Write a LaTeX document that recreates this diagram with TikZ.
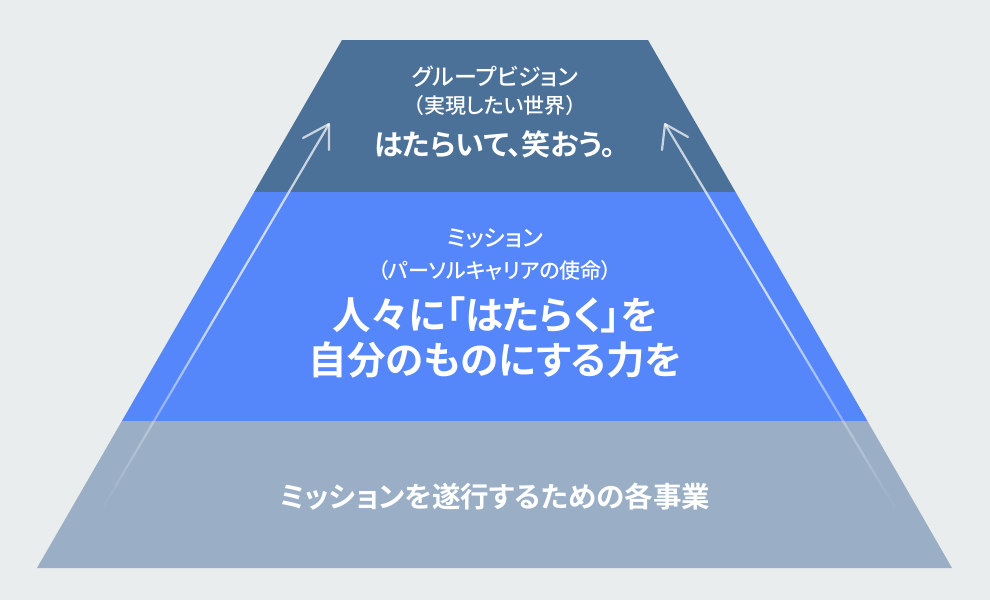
\documentclass[tikz,border=0pt]{standalone}
\usepackage{fontspec}
\newfontfamily\jpm[RawFeature=+palt]{Noto Sans CJK JP Medium}
\newfontfamily\jpb[RawFeature=+palt]{Noto Sans CJK JP Bold}
\usetikzlibrary{calc}
\definecolor{bg}{HTML}{E9EDEE}
\definecolor{bandtop}{HTML}{4B7199}
\definecolor{bandmid}{HTML}{5587FA}
\definecolor{bandbot}{HTML}{9AAFC6}
\tikzset{
  lbl/.style={text=white, align=center, inner sep=0pt},
  small/.style={lbl, font=\jpm\fontsize{23}{26}\selectfont},
  sub/.style={lbl, font=\jpm\fontsize{21}{24}\selectfont},
  big/.style={lbl, font=\jpb\fontsize{29}{34}\selectfont},
  huge/.style={lbl, font=\jpb\fontsize{38.5}{45}\selectfont},
  mid/.style={lbl, font=\jpb\fontsize{28.5}{33}\selectfont},
  arrowline/.style={white, line width=2.2pt},
}
\begin{document}
\begin{tikzpicture}[x=1pt,y=-1pt]
\fill[bg] (0,0) rectangle (990,600);
\useasboundingbox (0,0) rectangle (990,600);
% bands
\fill[bandtop] (342,40) -- (648,40) -- (735.5,192) -- (254.2,192) -- cycle;
\fill[bandmid] (254.2,192) -- (735.5,192) -- (867.4,421) -- (121.9,421) -- cycle;
\fill[bandbot] (121.9,421) -- (867.4,421) -- (952,568) -- (37,568) -- cycle;
% arrows
\coordinate (ls) at (98,516);
\coordinate (lt) at (329,124);
\coordinate (rs) at (900,516);
\coordinate (rt) at (665,124);
\foreach \i in {0,...,39}{
  \pgfmathsetmacro{\a}{\i/40}
  \pgfmathsetmacro{\b}{(\i+1)/40}
  \pgfmathsetmacro{\op}{min(0.7,0.7*\i/20)}
  \draw[arrowline, opacity=\op] ($(ls)!\a!(lt)$) -- ($(ls)!\b!(lt)$);
  \draw[arrowline, opacity=\op] ($(rs)!\a!(rt)$) -- ($(rs)!\b!(rt)$);
}
\draw[arrowline, opacity=0.7, line cap=round, line join=round] ($(lt)+(-26,14)$) -- (lt) -- ($(lt)+(0,26)$);
\draw[arrowline, opacity=0.7, line cap=round, line join=round] ($(rt)+(23,13)$) -- (rt) -- ($(rt)+(-3,26)$);
% texts
\node[small] (v1) at (495,77) {グループビジョン};
\node[sub] (v2) at (495,106) {（実現したい世界）};
\node[big] (v3) at (495,144) {はたらいて、笑おう。};
\node[small] (m1) at (495,238) {ミッション};
\node[sub] (m2) at (495,271) {（パーソルキャリアの使命）};
\node[huge] (m3) at (495,315) {人々に「はたらく」を};
\node[huge] (m4) at (495,360) {自分のものにする力を};
\node[mid] (b1) at (495,497) {ミッションを遂行するための各事業};
\end{tikzpicture}
\end{document}
